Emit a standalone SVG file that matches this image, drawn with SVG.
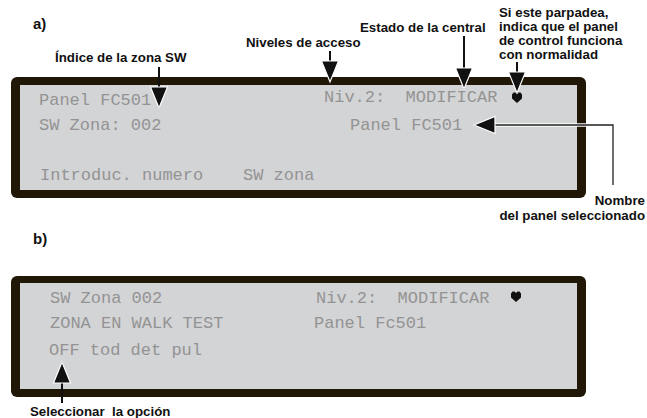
<svg xmlns="http://www.w3.org/2000/svg" width="647" height="418" viewBox="0 0 647 418">
<style>
.bg{fill:#ffffff}
.frame{fill:#211707}
.lcd{fill:#d3d4d6}
text{white-space:pre}
.t{font-family:"Liberation Mono","DejaVu Sans Mono",monospace;font-size:17px;fill:#939393}
.lbl{font-family:"Liberation Sans",Arial,sans-serif;font-weight:bold;font-size:13.3px;fill:#111111}
.hd{font-family:"Liberation Sans",Arial,sans-serif;font-weight:bold;font-size:15px;fill:#111111}
.ln{stroke:#111111;stroke-width:2;fill:none}
.halo{stroke:#ffffff;stroke-width:3.5;fill:none}
.thin{stroke:#222222;stroke-width:1.3;fill:none}
.heart{fill:#111111}
</style>
<defs>
<marker id="ah" markerUnits="userSpaceOnUse" markerWidth="26" markerHeight="22" refX="21" refY="8.5" orient="auto" viewBox="-2 -2 26 22">
<path d="M0,0 L21,8.5 L0,17 Z" fill="#111111" stroke="#ffffff" stroke-width="1.2"/>
</marker>
</defs>
<rect class="bg" x="0" y="0" width="647" height="418"/>

<text class="hd" x="33" y="29">a)</text>
<text class="hd" x="33" y="244">b)</text>

<g id="panel-a">
<rect class="frame" x="11" y="77" width="575" height="121" rx="6"/>
<rect class="lcd" x="20" y="85" width="557" height="105"/>
<text class="t" x="39" y="105">Panel FC501</text>
<text class="t" x="324" y="102" xml:space="preserve">Niv.2:  MODIFICAR</text>
<path class="heart" d="M517,103 L512,98.5 V94.5 L513.5,92.5 H515.5 L517,94 L518.5,92.5 H520.5 L522,94.5 V98.5 Z"/>
<text class="t" x="39" y="130">SW Zona: 002</text>
<text class="t" x="350" y="130">Panel FC501</text>
<text class="t" x="40" y="180">Introduc. numero</text>
<text class="t" x="243" y="180">SW zona</text>
</g>

<g id="panel-b">
<rect class="frame" x="11" y="276" width="575" height="121" rx="6"/>
<rect class="lcd" x="20" y="283" width="557" height="106"/>
<text class="t" x="50" y="303">SW Zona 002</text>
<text class="t" x="316" y="303" xml:space="preserve">Niv.2:  MODIFICAR</text>
<path class="heart" d="M516,302 L511,297.5 V293.5 L512.5,291.5 H514.5 L516,293 L517.5,291.5 H519.5 L521,293.5 V297.5 Z"/>
<text class="t" x="50" y="328">ZONA EN WALK TEST</text>
<text class="t" x="314" y="328">Panel Fc501</text>
<text class="t" x="49" y="355">OFF tod det pul</text>
</g>

<g id="labels">
<text class="lbl" x="55" y="62">Índice de la zona SW</text>
<text class="lbl" x="246" y="47">Niveles de acceso</text>
<text class="lbl" x="360" y="32">Estado de la central</text>
<text class="lbl" x="499" y="17">Si este parpadea,</text>
<text class="lbl" x="499" y="31">indica que el panel</text>
<text class="lbl" x="499" y="45">de control funciona</text>
<text class="lbl" x="499" y="59">con normalidad</text>
<text class="lbl" x="645" y="205" text-anchor="end">Nombre</text>
<text class="lbl" x="645" y="220" text-anchor="end">del panel seleccionado</text>
<text class="lbl" x="30" y="416" xml:space="preserve">Seleccionar  la opción</text>
</g>

<g id="connectors">
<line class="ln" x1="159" y1="67" x2="159" y2="108" marker-end="url(#ah)"/>
<line class="ln" x1="330" y1="51" x2="330" y2="82" marker-end="url(#ah)"/>
<line class="ln" x1="464" y1="36" x2="464" y2="89" marker-end="url(#ah)"/>
<line class="ln" x1="517" y1="62" x2="517" y2="93" marker-end="url(#ah)"/>
<path class="halo" d="M613,185 V125 H495"/>
<path class="thin" d="M613,185 V125 H474" marker-end="url(#ah)"/>
<line class="ln" x1="62" y1="403" x2="62" y2="362" marker-end="url(#ah)"/>
</g>
</svg>
